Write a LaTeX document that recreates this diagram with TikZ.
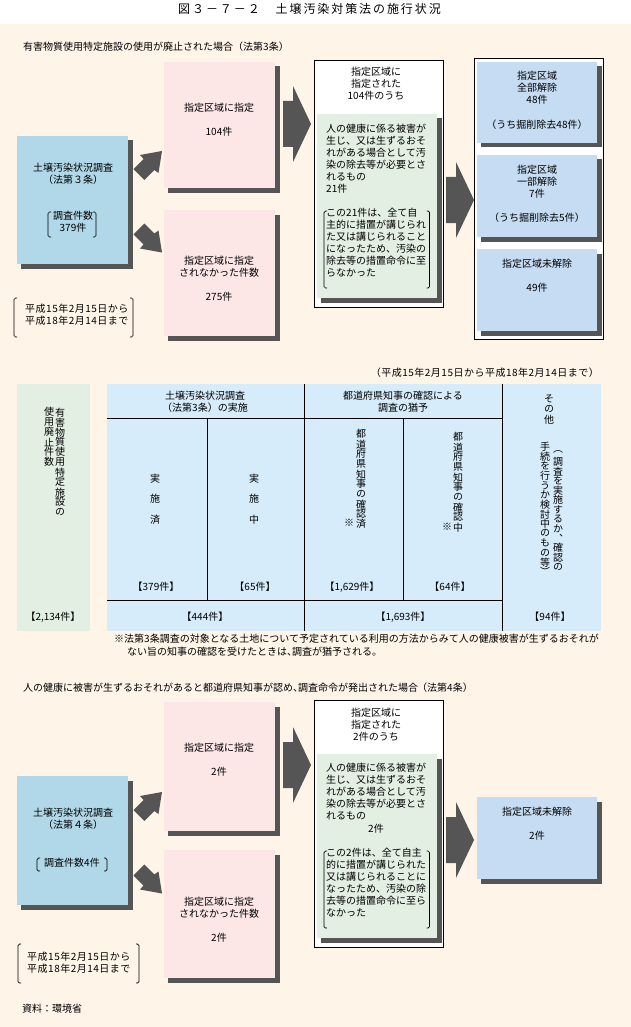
\documentclass[tikz,border=0pt]{standalone}
\usepackage{fontspec}
\setmainfont{Noto Sans CJK JP}
\newfontfamily\cjkv[RawFeature=+vert]{Noto Sans CJK JP}
\newfontfamily\titlefont[LetterSpace=16]{Noto Sans CJK JP}
\newfontfamily\widefont[LetterSpace=5]{Noto Sans CJK JP}
\definecolor{bgcream}{HTML}{FFF4E8}
\definecolor{shadowgray}{HTML}{555555}
\definecolor{pinkbox}{HTML}{FDE6E6}
\definecolor{skybox}{HTML}{B0D8E8}
\definecolor{greenbox}{HTML}{E3EFE3}
\definecolor{bluebox}{HTML}{C5DCF2}
\definecolor{tablebox}{HTML}{D6ECFB}
\makeatletter
\newcommand\vstackchars[2]{\vbox{\offinterlineskip\@tfor\ch:=#2\do{\vbox to #1pt{\vss\hbox to 10pt{\hss\cjkv\ch\hss}\vss}}}}
\makeatother
\tikzset{
  txt/.style={inner sep=0pt,font=\fontsize{10}{12}\selectfont,text height=8.8pt,text depth=1.2pt,anchor=center},
  para/.style={inner sep=0pt,font=\fontsize{10}{12}\selectfont,align=left,anchor=north west},
  block/.style={inner sep=0pt,font=\fontsize{10}{12}\selectfont,align=center,anchor=north},
  vtxt/.style={inner sep=0pt,font=\fontsize{10}{12}\selectfont,anchor=north},
  bracket/.style={draw=black,line width=0.7pt,rounded corners=1.5pt},
  rule/.style={draw=black,line width=0.9pt},
  frame/.style={draw=black,line width=0.9pt,fill=white},
  arrowshape/.style={fill=shadowgray,draw=none},
  shadowbox/.style={fill=shadowgray,draw=none}
}
\newcommand\shbox[5]{% x1,y1,x2,y2,colour
  \path[shadowbox] (#1+4,#2+4.5) rectangle (#3+4.5,#4+4.5);
  \path[fill=#5] (#1,#2) rectangle (#3,#4);}
\newcommand\pairbr[4]{% x1,y1,x2,y2
  \draw[bracket] (#1+3,#2) -- (#1,#2) -- (#1,#4) -- (#1+3,#4);
  \draw[bracket] (#3-3,#2) -- (#3,#2) -- (#3,#4) -- (#3-3,#4);}
\newcommand\bigarrow[2]{% shaft left x, tip y centre
  \path[arrowshape] (#1,#2-23) -- (#1+10,#2-23) -- (#1+10,#2-38) -- (#1+28,#2) -- (#1+10,#2+38) -- (#1+10,#2+23) -- (#1,#2+23) -- cycle;}
\newcommand\diagarrows[1]{% y offset
  \path[arrowshape] (133.5,169+#1) -- (143.5,159+#1) -- (140,155+#1) -- (162,151+#1) -- (158.5,173+#1) -- (154.3,170+#1) -- (144.3,180+#1) -- cycle;
  \path[arrowshape] (133.5,234.5+#1) -- (144.3,223.5+#1) -- (154.3,233.5+#1) -- (158.5,230.5+#1) -- (162,252.5+#1) -- (140,248.5+#1) -- (143.5,244.5+#1) -- cycle;}
\begin{document}
\begin{tikzpicture}[x=1pt,y=-1pt]
\useasboundingbox (0,0) rectangle (631,1027);
\path[fill=white] (0,0) rectangle (631,24);
\path[fill=bgcream] (0,24) rectangle (631,1027);
\node[txt,font=\titlefont\fontsize{12}{14}\selectfont] (title) at (309.5,10) {図３－７－２　土壌汚染対策法の施行状況};

% ---------- section 1
\node[txt,anchor=west] (head1) at (23,47) {有害物質使用特定施設の使用が廃止された場合（法第3条）};
\shbox{17}{136}{128}{264}{skybox}
\shbox{164}{62}{275}{188}{pinkbox}
\shbox{164}{210}{275}{336}{pinkbox}
\diagarrows{0}
\bigarrow{283}{124}
\node[block] (s1a) at (73,163) {土壌汚染状況調査\\（法第３条）};
\node[block] (s1b) at (73,211) {調査件数\\379件};
\pairbr{48}{212}{96}{237}
\node[para,font=\widefont\fontsize{10}{12}\selectfont] (s1date) at (25,304) {平成15年2月15日から\\平成18年2月14日まで};
\pairbr{14}{298}{133}{337}
\node[txt] (s1p1) at (219,108) {指定区域に指定};
\node[txt] (s1p2) at (219,132) {104件};
\node[block] (s1p3) at (219,256) {指定区域に指定\\されなかった件数};
\node[txt] (s1p4) at (219,297) {275件};
\path[frame] (314.5,60) rectangle (443.5,307);
\shbox{317}{114}{437}{298}{greenbox}
\node[block] (s1m1) at (376,67) {指定区域に\\指定された\\104件のうち};
\node[para] (s1m2) at (326,124) {人の健康に係る被害が\\生じ、又は生ずるおそ\\れがある場合として汚\\染の除去等が必要とさ\\れるもの\\21件};
\node[para] (s1m3) at (326,208) {この21件は、全て自\\主的に措置が講じられ\\た又は講じられること\\になったため、汚染の\\除去等の措置命令に至\\らなかった};
\pairbr{324}{211}{429.5}{288}
\bigarrow{446}{200}
\path[frame] (474.5,58) rectangle (603.5,339);
\shbox{477}{62}{597}{143}{bluebox}
\shbox{477}{155}{597}{237}{bluebox}
\shbox{477}{249}{597}{331}{bluebox}
\node[block] (s1r1) at (537,71) {指定区域\\全部解除\\48件};
\node[txt] (s1r2) at (537,125) {（うち掘削除去48件）};
\node[block] (s1r3) at (537,165) {指定区域\\一部解除\\7件};
\node[txt] (s1r4) at (537,218) {（うち掘削除去5件）};
\node[txt] (s1r5) at (537,264) {指定区域未解除};
\node[txt] (s1r6) at (537,288) {49件};

% ---------- table
\node[txt,anchor=east,font=\widefont\fontsize{10}{12}\selectfont] (tperiod) at (599,373) {（平成15年2月15日から平成18年2月14日まで）};
\path[fill=greenbox] (17,384) rectangle (90,631);
\path[fill=tablebox] (107,384) rectangle (601,631);
\draw[rule] (304,384) -- (304,631);
\draw[rule] (502,384) -- (502,631);
\draw[rule] (107,418) -- (502,418);
\draw[rule] (107,600) -- (502,600);
\draw[rule] (207,418) -- (207,600);
\draw[rule] (403,418) -- (403,600);
\node[vtxt] (tl1) at (60,407) {\vstackchars{10}{有害物質使用特定施設の}};
\node[vtxt] (tl2) at (49,407) {\vstackchars{10}{使用廃止件数}};
\node[txt] (tl3) at (53,617) {【2,134件】};
\node[block] (th1) at (205,391) {土壌汚染状況調査\\（法第3条）の実施};
\node[block] (th2) at (403,391) {都道府県知事の確認による\\調査の猶予};
\node[vtxt] (tc1) at (155,468) {\vstackchars{20.5}{実施済}};
\node[vtxt] (tc2) at (254,468) {\vstackchars{20.5}{実施中}};
\node[vtxt] (tc3) at (361,429) {\vstackchars{10}{都道府県知事の確認済}};
\node[txt] (tc3s) at (349,523) {※};
\node[vtxt] (tc4) at (458,432) {\vstackchars{10}{都道府県知事の確認中}};
\node[txt] (tc4s) at (447,527) {※};
\node[vtxt] (tc5) at (549,393) {\vstackchars{10.5}{その他}};
\node[vtxt] (tc6) at (558,447) {\vstackchars{9.6}{（調査を実施するか、確認の}};
\node[vtxt] (tc7) at (545,442) {\vstackchars{9.6}{手続を行うか検討中のもの等）}};
\node[txt] (tn1) at (156,587) {【379件】};
\node[txt] (tn2) at (255,587) {【65件】};
\node[txt] (tn3) at (352,587) {【1,629件】};
\node[txt] (tn4) at (450,587) {【64件】};
\node[txt] (tn5) at (205,617) {【444件】};
\node[txt] (tn6) at (403,617) {【1,693件】};
\node[txt] (tn7) at (550,617) {【94件】};
\node[txt,anchor=west] (foot1) at (114,639) {※法第3条調査の対象となる土地について予定されている利用の方法からみて人の健康被害が生ずるおそれが};
\node[txt,anchor=west] (foot2) at (127,652) {ない旨の知事の確認を受けたときは、\kern-5pt 調査が猶予される。\kern-5pt};

% ---------- section 3
\node[txt,anchor=west] (head3) at (23,688) {人の健康に被害が生ずるおそれがあると都道府県知事が認め、\kern-5pt 調査命令が発出された場合\kern-1pt（法第4条）};
\shbox{17}{776}{128}{905}{skybox}
\shbox{164}{702}{275}{831}{pinkbox}
\shbox{164}{850}{275}{978}{pinkbox}
\diagarrows{641}
\bigarrow{283}{765}
\node[block] (s3a) at (73,808) {土壌汚染状況調査\\（法第４条）};
\node[txt] (s3b) at (72,863) {調査件数4件};
\pairbr{37}{858}{107}{871}
\node[para,font=\widefont\fontsize{10}{12}\selectfont] (s3date) at (27,952) {平成15年2月15日から\\平成18年2月14日まで};
\pairbr{18}{944}{139}{983}
\node[txt] (s3p1) at (219,748) {指定区域に指定};
\node[txt] (s3p2) at (219,772) {2件};
\node[block] (s3p3) at (219,897) {指定区域に指定\\されなかった件数};
\node[txt] (s3p4) at (219,938) {2件};
\path[frame] (314.5,700) rectangle (443.5,947);
\shbox{317}{754}{437}{938}{greenbox}
\node[block] (s3m1) at (376,708) {指定区域に\\指定された\\2件のうち};
\node[para] (s3m2) at (326,763) {人の健康に係る被害が\\生じ、又は生ずるおそ\\れがある場合として汚\\染の除去等が必要とさ\\れるもの};
\node[txt] (s3m2b) at (376,829) {2件};
\node[para] (s3m3) at (326,848) {この2件は、全て自主\\的に措置が講じられた\\又は講じられることに\\なったため、汚染の除\\去等の措置命令に至ら\\なかった};
\pairbr{324}{851}{429.5}{928}
\bigarrow{446}{840}
\shbox{477}{797}{597}{879}{bluebox}
\node[txt] (s3r1) at (537,812) {指定区域未解除};
\node[txt] (s3r2) at (537,836) {2件};
\node[txt,anchor=west] (source) at (22,1009) {資料：環境省};
\end{tikzpicture}
\end{document}
